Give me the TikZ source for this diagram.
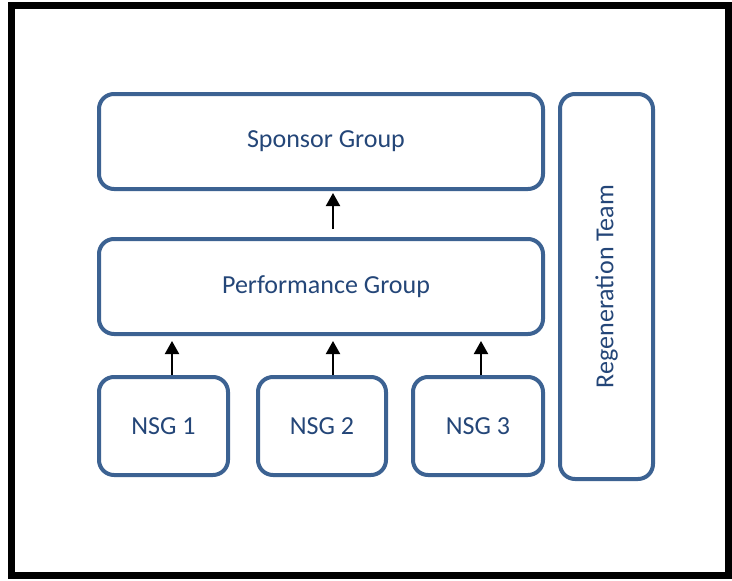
\documentclass[tikz,border=0pt]{standalone}
\usepackage{fontspec}
\setmainfont{Carlito}
\usepackage{tikz}
\usetikzlibrary{arrows.meta}
\definecolor{boxblue}{RGB}{60,98,146}
\definecolor{textblue}{RGB}{36,70,120}

\begin{document}
\begin{tikzpicture}[x=1pt,y=-1pt,
  group/.style={draw=boxblue, line width=4pt, rounded corners=15pt,
    text=textblue, font=\fontsize{26}{31}\selectfont, inner sep=0pt},
  up/.style={-{Triangle[width=14pt,length=13pt]}, line width=2pt}]
\useasboundingbox (0,0) rectangle (732,581);
% outer frame
\draw[line width=7pt] (11.5,5.5) rectangle (728.5,575.5);
% the groups
\node[group, minimum width=444pt, minimum height=95pt] (sponsor) at (321,141.5) {\hspace*{10pt}Sponsor Group};
\node[group, minimum width=444pt, minimum height=95pt] (perf) at (321,286.5) {\hspace*{10pt}Performance Group};
\node[group, minimum width=129pt, minimum height=98pt] (nsg1) at (163.5,426) {NSG 1};
\node[group, minimum width=128pt, minimum height=98pt] (nsg2) at (322,426) {NSG 2};
\node[group, minimum width=130pt, minimum height=98pt] (nsg3) at (478,426) {NSG 3};
\node[group, minimum width=93pt, minimum height=385pt] (regen) at (606.5,286.5) {};
\node[text=textblue, font=\fontsize{26}{31}\selectfont, rotate=90] (regenlabel) at (regen.center) {Regeneration Team};
% arrows up
\draw[up, shorten <=8pt, shorten >=2pt] ([xshift=12pt]perf.north) -- ([xshift=12pt]sponsor.south);
\draw[up, shorten >=5pt] ([xshift=8.5pt]nsg1.north) -- ([xshift=8.5pt]nsg1.north |- perf.south);
\draw[up, shorten >=5pt] ([xshift=11pt]nsg2.north) -- ([xshift=11pt]nsg2.north |- perf.south);
\draw[up, shorten >=5pt] ([xshift=3pt]nsg3.north) -- ([xshift=3pt]nsg3.north |- perf.south);
\end{tikzpicture}
\end{document}
